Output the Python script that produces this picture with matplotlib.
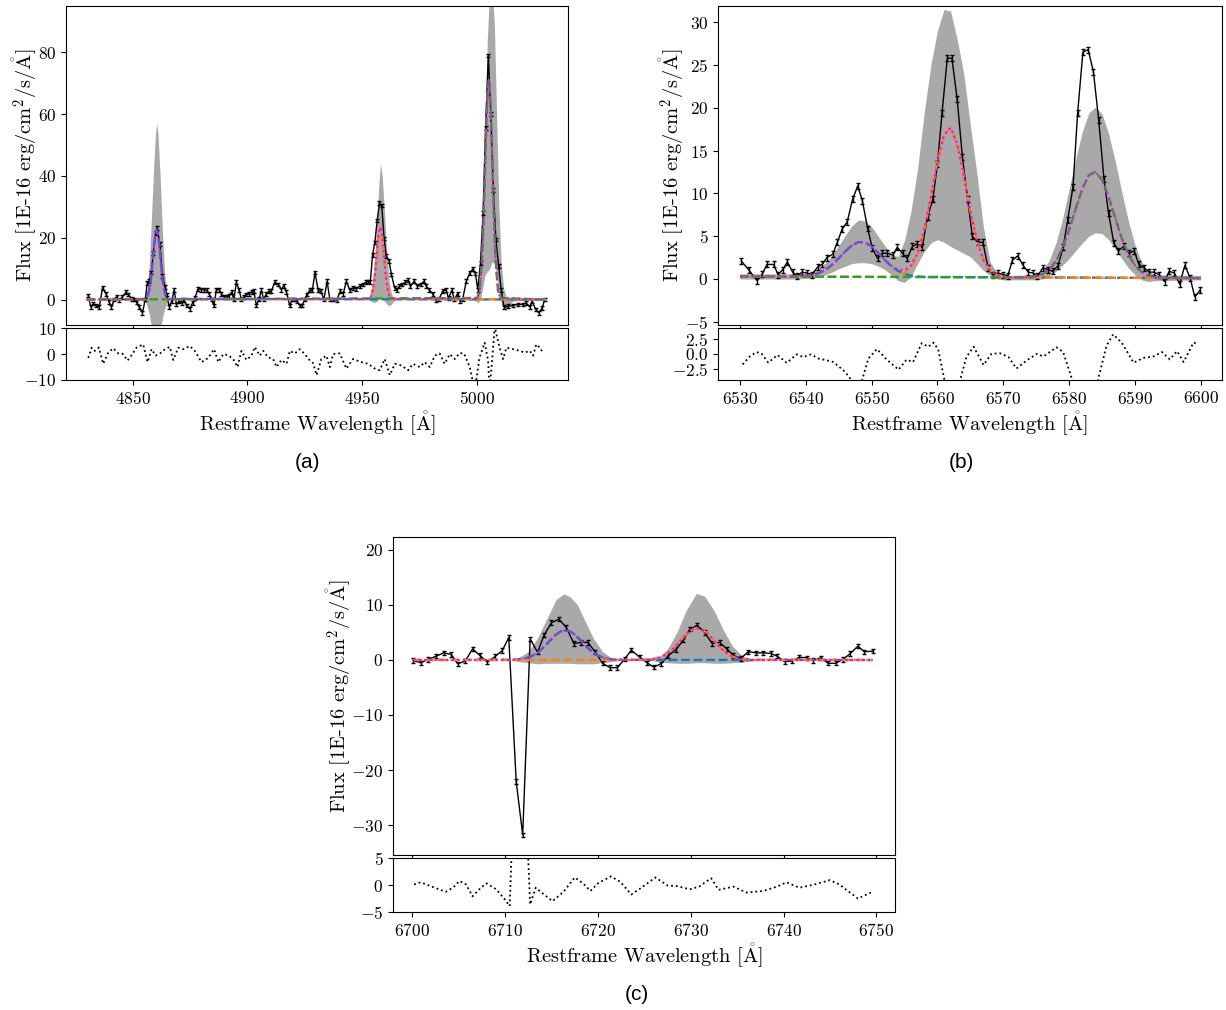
import matplotlib.pyplot as plt

plt.rcParams['font.family'] = ['cmr10', 'DejaVu Serif']
plt.rcParams['mathtext.fontset'] = 'cm'
plt.rcParams['axes.formatter.use_mathtext'] = True

# ---------------- panel (a): Hbeta + [OIII] ----------------
a_wl = [4830.7, 4831.8, 4832.9, 4834.0, 4835.5, 4836.9, 4838.4, 4839.8, 4840.8, 4842.0,
        4843.0, 4844.2, 4845.6, 4847.1, 4848.2, 4849.6, 4850.7, 4851.7, 4852.9, 4854.3,
        4855.5, 4856.4, 4857.2, 4858.2, 4859.0, 4860.0, 4860.7, 4861.9, 4863.0, 4864.1,
        4864.8, 4866.0, 4867.0, 4868.1, 4869.1, 4870.3, 4871.3, 4872.3, 4873.5, 4874.9,
        4876.1, 4877.1, 4878.5, 4880.0, 4881.0, 4882.2, 4883.3, 4884.4, 4885.4, 4886.5,
        4887.7, 4888.7, 4889.7, 4890.9, 4892.0, 4893.1, 4894.1, 4895.2, 4896.4, 4897.4,
        4898.4, 4899.6, 4900.7, 4901.8, 4902.8, 4903.9, 4905.1, 4906.1, 4907.1, 4908.3,
        4909.4, 4910.4, 4911.9, 4913.4, 4914.8, 4915.8, 4917.0, 4918.4, 4919.6, 4920.6,
        4921.6, 4922.8, 4923.9, 4924.9, 4925.9, 4927.1, 4928.3, 4929.4, 4930.8, 4932.0,
        4933.3, 4934.7, 4935.9, 4937.3, 4938.8, 4940.5, 4941.7, 4943.1, 4944.6, 4946.0,
        4947.5, 4948.9, 4950.4, 4951.5, 4952.6, 4953.5, 4954.5, 4955.5, 4956.5, 4957.5,
        4958.5, 4959.5, 4960.5, 4961.7, 4962.7, 4964.1, 4965.1, 4966.2, 4967.4, 4968.8,
        4970.1, 4971.0, 4972.6, 4974.0, 4975.5, 4976.9, 4977.9, 4979.1, 4980.6, 4982.0,
        4983.5, 4985.0, 4986.4, 4987.6, 4989.0, 4990.1, 4991.5, 4992.5, 4993.7, 4995.3,
        4996.8, 4998.2, 4999.3, 5000.3, 5001.5, 5002.6, 5003.7, 5004.9, 5006.0, 5007.1,
        5008.2, 5009.4, 5010.5, 5011.7, 5013.5, 5015.6, 5017.8, 5020.0, 5021.4, 5022.9,
        5024.0, 5025.5, 5026.9, 5028.4, 5029.4]
a_flux = [1.3, -2.4, -1.3, -1.9, -2.4, 3.8, 1.9, -0.9, -2.4, 0.0,
          0.9, -0.2, 0.9, 2.4, 1.6, 0.2, 0.0, -0.9, -2.4, -4.3,
          0.0, 5.4, 5.9, 8.8, 15.0, 21.5, 23.1, 17.9, 7.7, 4.1,
          1.6, -2.4, -0.5, 3.0, -1.6, -0.5, -1.1, -0.2, -1.9, -3.0,
          -1.1, 0.5, 3.5, 3.2, 3.2, 3.0, 1.9, 0.0, -1.9, 3.2,
          3.2, 1.9, 0.9, 0.9, 1.1, 2.4, 0.0, 5.6, 3.0, 0.0,
          0.9, 1.6, 1.9, 2.4, 2.7, -1.9, 0.2, 3.0, 0.0, 1.9,
          2.7, 2.7, 5.6, 4.9, 3.2, 4.5, 2.4, -1.9, 0.0, 0.0,
          -0.5, -1.9, -1.9, 0.0, 1.6, 3.0, 3.0, 8.8, 3.0, 2.7,
          0.0, 5.9, 0.0, 0.0, -0.2, 2.7, 1.9, 5.9, 3.0, 3.8,
          3.5, 4.3, 4.9, 5.6, 5.8, 5.6, 14.5, 18.5, 25.6, 31.2,
          30.4, 19.8, 14.0, 12.4, 8.1, 3.8, 3.2, 4.3, 4.9, 5.6,
          6.3, 4.3, 5.9, 4.3, 4.9, 5.9, 4.3, 3.2, 1.9, -0.2,
          0.2, 2.7, 3.2, 0.5, 3.0, 0.0, 1.9, -0.5, 0.0, 5.9,
          8.6, 9.9, 8.4, 3.2, 11.8, 28.0, 55.5, 79.0, 60.0, 35.5,
          19.4, 10.8, 3.2, -2.4, -2.2, -1.9, -1.6, -1.6, -1.1, -2.4,
          -0.5, -3.2, -4.3, -2.7, 0.0]
a_err = 0.6

a_hb_wl = [4855.5, 4856.5, 4857.5, 4858.0, 4858.5, 4859.0, 4859.5, 4860.0, 4860.5,
           4861.0, 4861.5, 4862.0, 4862.5, 4863.0, 4863.5, 4864.5, 4865.5]
a_hb = [0.2, 1.0, 3.9, 6.6, 10.3, 14.5, 18.5, 21.4, 22.5, 21.4, 18.5, 14.5, 10.3, 6.6, 3.9, 1.0, 0.2]
a_o1_wl = [4952.9, 4953.9, 4954.9, 4955.4, 4955.9, 4956.4, 4956.9, 4957.4, 4957.9,
           4958.4, 4958.9, 4959.4, 4959.9, 4960.4, 4960.9, 4961.9, 4962.9]
a_o1 = [0.2, 1.0, 4.0, 6.9, 10.7, 15.1, 19.3, 22.3, 23.4, 22.3, 19.3, 15.1, 10.7, 6.9, 4.0, 1.0, 0.2]
a_o2_wl = [5000.1, 5001.1, 5002.1, 5002.6, 5003.1, 5003.6, 5004.1, 5004.6, 5005.1,
           5005.6, 5006.1, 5006.6, 5007.1, 5007.6, 5008.1, 5009.1, 5010.1]
a_o2 = [0.5, 3.1, 12.2, 20.9, 32.5, 45.7, 58.4, 67.6, 71.0, 67.6, 58.4, 45.7, 32.5, 20.9, 12.2, 3.1, 0.5]
a_edges = [4830.0, 5030.0]

a_band_wl = [4830, 4855.3, 4856.3, 4857.3, 4858.3, 4859.3, 4860.0, 4860.5, 4861.0, 4862.0, 4863.0, 4864.0, 4865.0, 4866.0,
             4952.5, 4953.5, 4954.5, 4955.5, 4956.5, 4957.3, 4957.9, 4958.7, 4959.7, 4960.7, 4961.7, 4962.7, 4963.7, 4965.0,
             4998.5, 4999.5, 5000.5, 5001.5, 5002.5, 5003.5, 5004.5, 5005.5, 5006.5, 5007.5, 5008.5, 5009.5, 5010.5,
             5011.5, 5012.5, 5013.5, 5014.5, 5015.5, 5030]
a_band_hi = [0, 0, 3, 12, 28, 45, 54, 57, 54, 40, 22, 8, 2, 0,
             0, 2, 6, 14, 27, 38, 44, 40, 28, 15, 6, 2, 0.3, 0,
             0, 0.5, 3, 10, 28, 55, 85, 100, 100, 90, 60, 30, 12, 4, 1, 0.3, 0, 0, 0]
a_band_lo = [0, 0, -2, -5, -9, -12, -12, -12, -12, -10, -6, -3, -1, 0,
             0, -0.3, -0.8, -1, -0.5, 0.5, 1, 0.5, -0.5, -1.5, -2, -1.5, -0.5, 0,
             0, -0.5, -1, 0, 4, 8, 9, 10, 12, 12, 8, 3, -1, -3, -3.5, -3, -1.5, -0.5, 0]

a_res_wl = [4830.7, 4832.2, 4833.6, 4835.3, 4837.2, 4839.4, 4841.6, 4843.8, 4845.9, 4847.8,
            4849.9, 4851.7, 4854.6, 4856.5, 4858.3, 4860.0, 4861.9, 4864.1, 4866.2, 4867.7,
            4869.9, 4872.0, 4874.9, 4877.1, 4880.0, 4882.9, 4885.5, 4887.3, 4889.5, 4891.6,
            4893.8, 4895.7, 4897.4, 4899.6, 4901.8, 4903.2, 4905.4, 4906.9, 4909.0, 4911.2,
            4912.7, 4914.8, 4917.0, 4918.5, 4920.6, 4922.8, 4925.0, 4927.2, 4928.6, 4930.1,
            4932.2, 4934.4, 4935.9, 4937.3, 4940.2, 4943.1, 4946.0, 4949.6, 4952.6, 4955.5,
            4957.6, 4959.8, 4962.0, 4964.2, 4967.1, 4970.0, 4972.1, 4975.0, 4977.2, 4979.4,
            4981.6, 4983.7, 4985.9, 4988.1, 4990.3, 4992.4, 4994.3, 4996.8, 4999.0, 5001.1,
            5003.3, 5004.8, 5005.5, 5007.7, 5009.8, 5011.3, 5012.8, 5015.7, 5018.6, 5020.7,
            5023.0, 5024.4, 5025.8, 5027.3, 5028.7]
a_res = [-1.5, 2.5, 1.25, 2.5, -3.75, 0.6, 2.25, 0.25, 0, -2.5,
         0, 2.5, 3.75, -3.1, 1.9, -0.6, 0.25, 1.9, 2.75, -2.25,
         2.5, 1.9, 3.1, 1.25, -3.1, -1.5, 1.9, -3.1, 0, -0.4,
         -1.9, -5, 1.25, -2.25, -0.6, 2.75, -0.6, 1.25, -1.25, -1.9,
         -5, -2.25, -3.75, 1.25, 0.25, 1.9, 0, -2.5, -3.5, -8.1,
         -1.9, -0.6, -5, 0, 0.25, -5.6, -1.9, -3.1, -3.75, -5.6,
         -6.25, -1.9, -8.1, -3.75, -4.4, -6.25, -3.75, -5, -3.1, -5,
         -0.6, 0.25, -3.75, 0, -1.9, 0.4, 0.25, -5, -14, -1.25,
         4.4, -2.5, -14, 10.5, 2.5, -1.9, 2.5, 1.9, 1.25, 0.6,
         1.25, -0.6, 3.75, 2.5, 0.6]

# ---------------- panel (b): Halpha + [NII] ----------------
b_wl = [6530.2, 6531.3, 6532.6, 6533.4, 6534.1, 6535.1, 6535.8, 6536.5, 6537.2, 6538.0,
        6538.7, 6539.4, 6540.2, 6540.9, 6541.8, 6542.5, 6543.2, 6544.1, 6544.8, 6545.5,
        6546.3, 6547.1, 6547.9, 6548.6, 6549.4, 6550.1, 6550.9, 6551.6, 6552.4, 6553.2,
        6553.9, 6554.7, 6555.4, 6556.2, 6556.9, 6557.7, 6558.5, 6559.3, 6560.0, 6560.7,
        6561.5, 6562.2, 6563.0, 6563.8, 6564.6, 6565.3, 6566.1, 6566.9, 6567.7, 6568.4,
        6569.2, 6570.0, 6570.7, 6571.4, 6572.2, 6573.0, 6573.8, 6574.5, 6575.2, 6576.0,
        6576.8, 6577.5, 6578.3, 6579.1, 6579.8, 6580.6, 6581.3, 6582.1, 6582.9, 6583.7,
        6584.5, 6585.3, 6586.0, 6586.8, 6587.5, 6588.3, 6589.1, 6589.9, 6590.6, 6591.4,
        6592.2, 6592.9, 6593.7, 6594.5, 6595.2, 6596.0, 6596.8, 6597.6, 6598.4, 6599.1,
        6599.9]
b_flux = [2.1, 1.1, -0.2, 0.6, 1.7, 1.7, 0.5, 1.1, 2.0, 0.8,
          0.3, 0.8, 0.7, 0.5, 1.4, 1.7, 2.5, 2.9, 4.3, 5.8,
          6.7, 9.3, 10.9, 9.1, 5.9, 3.6, 2.4, 3.0, 3.0, 2.8,
          3.7, 3.0, 2.4, 3.8, 4.1, 3.7, 7.3, 9.3, 13.4, 19.4,
          25.8, 25.8, 21.0, 14.2, 9.3, 5.0, 4.3, 4.3, 1.3, 0.5,
          0.7, 0.5, 0.4, 2.2, 2.7, 1.6, 0.8, 0.7, 0.3, 1.3,
          1.1, 0.9, 1.5, 3.7, 6.9, 10.8, 19.4, 26.5, 26.8, 24.2,
          18.6, 11.7, 7.7, 4.2, 3.3, 3.8, 3.0, 3.3, 1.7, 1.3,
          0.8, 0.8, 0.5, -0.3, 0.9, 0.7, -0.6, 1.6, 0.1, -2.1,
          -1.3]
b_err = 0.35

b_n1_wl = [6530] + list(range(6539, 6559)) + [6600]
b_n1 = [0.30, 0.30, 0.35, 0.47, 0.69, 1.07, 1.66, 2.42, 3.23, 3.93, 4.31,
        4.27, 3.80, 3.06, 2.24, 1.50, 0.95, 0.59, 0.39, 0.29, 0.24, 0.10]
b_ha_wl = [6530] + list(range(6552, 6572)) + [6600]
b_ha = [0.30, 0.24, 0.27, 0.36, 0.66, 1.41, 2.99, 5.73, 9.57, 13.71, 16.81,
        17.66, 15.80, 12.10, 7.92, 4.47, 2.20, 1.00, 0.47, 0.26, 0.20, 0.10]
b_n2_wl = [6530] + list(range(6573, 6595)) + [6600]
b_n2 = [0.30, 0.18, 0.23, 0.34, 0.59, 1.11, 2.08, 3.61, 5.72, 8.17, 10.51, 12.12,
        12.51, 11.59, 9.62, 7.16, 4.78, 2.89, 1.59, 0.83, 0.42, 0.23, 0.16, 0.10]
b_tot_wl = [6530] + list(range(6538, 6596)) + [6600]
b_tot = [0.30,
         0.28, 0.30, 0.35, 0.47, 0.69, 1.07, 1.66, 2.42, 3.23, 3.93,
         4.31, 4.27, 3.80, 3.06, 2.24, 1.54, 1.08, 1.02, 1.58, 3.06,
         5.75, 9.57, 13.71, 16.81, 17.66, 15.80, 12.10, 7.92, 4.47, 2.20,
         1.00, 0.47, 0.26, 0.20, 0.18, 0.19, 0.23, 0.34, 0.59, 1.11,
         2.08, 3.61, 5.72, 8.17, 10.51, 12.12, 12.51, 11.59, 9.62, 7.16,
         4.78, 2.89, 1.59, 0.83, 0.42, 0.23, 0.16, 0.12,
         0.10]

b_band_wl = [6530, 6538] + list(range(6540, 6571)) + list(range(6575, 6594)) + [6600]
b_band_hi = [0.6, 0.6,
             0.7, 0.9, 1.3, 1.9, 2.8, 3.9, 5.1, 6.2, 6.9, 6.8,
             6.1, 5.0, 3.9, 3.0, 2.6, 4.5, 8.0, 13.0, 19.5, 25.0,
             29.0, 31.5, 31.3, 28.0, 24.0, 18.0, 12.3, 6.0, 2.0, 0.8,
             0.4,
             0.5, 1.0, 2.2, 4.2, 7.0, 10.5, 14.0, 17.2, 19.4, 20.1,
             19.3, 17.0, 13.8, 10.2, 6.8, 4.0, 2.0, 0.9, 0.5,
             0.4]
b_band_lo = [0.0, 0.0,
             0.05, 0.1, 0.2, 0.5, 0.8, 1.2, 1.5, 1.8, 1.9, 1.9,
             1.8, 1.5, 1.1, 0.5, -0.2, -0.4, 0.3, 1.8, 3.2, 4.2,
             4.6, 4.3, 3.8, 3.4, 3.0, 2.6, 1.8, 1.0, 0.4, 0.0,
             -0.1,
             -0.1, 0.0, 0.4, 0.9, 1.6, 2.4, 3.3, 4.2, 5.0, 5.4,
             5.3, 4.6, 3.5, 2.4, 1.3, 0.5, -0.1, -0.3, -0.2,
             -0.1]

b_res_wl = [6530.4, 6531.5, 6532.5, 6533.3, 6534.3, 6535.7, 6537.1, 6538.6, 6539.6, 6540.8,
            6541.9, 6543.2, 6544.2, 6545.7, 6546.6, 6547.6, 6548.6, 6549.5, 6550.8, 6552.3,
            6554.1, 6555.3, 6556.3, 6557.6, 6558.6, 6559.4, 6560.1, 6562.1, 6564.4, 6565.5,
            6567.0, 6568.2, 6569.5, 6570.8, 6572.0, 6573.6, 6575.1, 6576.1, 6578.1, 6579.1,
            6582.7, 6585.7, 6586.7, 6588.0, 6589.8, 6591.3, 6592.8, 6594.1, 6595.3, 6596.4,
            6597.4, 6598.9, 6599.5]
b_res = [-1.8, -0.45, 0.3, 0.0, -1.5, -0.2, -1.55, -0.1, -0.55, -0.1,
         -0.8, -1.1, -1.4, -2.8, -3.9, -6.5, -4.3, -0.8, 0.8, -1.0,
         -2.7, -1.0, -1.4, 1.8, 1.2, 1.9, 0.8, -10.0, -0.55, 1.2,
         -1.9, 0.0, 0.1, -0.55, -2.5, -1.1, 0.0, -0.45, 1.1, 0.3,
         -12.0, 1.4, 3.3, 1.9, -1.5, -0.7, -0.45, 0.3, -0.95, 0.45,
         -1.4, 1.9, 1.7]

# ---------------- panel (c): [SII] ----------------
c_wl = [6700.1, 6700.9, 6701.7, 6702.6, 6703.4, 6704.2, 6704.9, 6705.7, 6706.5, 6707.3,
        6708.1, 6708.9, 6709.7, 6710.4, 6711.2, 6711.9, 6712.7, 6713.5, 6714.2, 6715.0,
        6715.8, 6716.6, 6717.4, 6718.2, 6718.9, 6719.7, 6720.5, 6721.3, 6722.1, 6722.9,
        6723.6, 6724.5, 6725.3, 6726.0, 6726.8, 6727.6, 6728.4, 6729.2, 6729.9, 6730.7,
        6731.5, 6732.3, 6733.1, 6733.9, 6734.6, 6735.4, 6736.2, 6737.0, 6737.8, 6738.6,
        6739.3, 6740.1, 6740.9, 6741.7, 6742.5, 6743.2, 6744.0, 6744.8, 6745.6, 6746.4,
        6747.2, 6748.0, 6748.7, 6749.6]
c_flux = [-0.1, -0.5, 0.1, 0.7, 1.3, 1.0, -0.7, -0.2, 2.0, 0.8,
          -0.4, 0.6, 1.7, 4.1, -22.1, -31.8, 3.8, 1.4, 4.5, 6.8,
          7.4, 5.9, 3.0, 3.2, 3.2, 1.5, -0.6, -1.4, -1.4, 0.2,
          1.8, 0.5, -0.5, -1.3, -0.7, 0.8, 1.9, 3.6, 5.6, 6.3,
          5.0, 3.0, 3.2, 2.0, 0.8, 0.3, 1.5, 1.3, 1.3, 1.2,
          0.7, -0.3, -0.2, 0.5, 0.4, -0.1, 0.4, -0.6, -0.6, 0.1,
          1.2, 2.5, 1.5, 1.6]
c_err = 0.4

c_s1_wl = [6700.1, 6710.5, 6711.5, 6712.0, 6712.5, 6713.0, 6713.5, 6714.0, 6714.5, 6715.0, 6715.5, 6716.0,
           6716.5, 6717.0, 6717.5, 6718.0, 6718.5, 6719.0, 6719.5, 6720.0, 6720.5, 6721.0, 6721.5,
           6722.5, 6749.6]
c_s1 = [0.0, 0.02, 0.11, 0.24, 0.46, 0.82, 1.34, 2.06, 2.91, 3.82, 4.63, 5.19,
        5.4, 5.19, 4.63, 3.82, 2.91, 2.06, 1.34, 0.82, 0.46, 0.24, 0.11, 0.02, 0.0]
c_s2_wl = [6700.1, 6724.7, 6725.7, 6726.2, 6726.7, 6727.2, 6727.7, 6728.2, 6728.7, 6729.2, 6729.7, 6730.2,
           6730.7, 6731.2, 6731.7, 6732.2, 6732.7, 6733.2, 6733.7, 6734.2, 6734.7, 6735.2, 6735.7,
           6736.7, 6749.6]
c_s2 = [0.0, 0.02, 0.12, 0.26, 0.49, 0.88, 1.44, 2.21, 3.13, 4.10, 4.97, 5.58,
        5.8, 5.58, 4.97, 4.10, 3.13, 2.21, 1.44, 0.88, 0.49, 0.26, 0.12, 0.02, 0.0]

c_band_wl = [6700.1, 6710.5, 6711.5, 6712.5, 6713.5, 6714.5, 6715.5, 6716.3, 6717.0, 6717.8,
             6718.5, 6719.5, 6720.5, 6721.5, 6722.5, 6725.5, 6726.5, 6727.5, 6728.5, 6729.5,
             6730.6, 6731.5, 6732.5, 6733.5, 6734.5, 6735.5, 6736.5, 6737.5, 6749.6]
c_band_hi = [0, 0, 0.5, 1.5, 4.0, 7.5, 11.0, 12.0, 11.5, 10.0,
             7.5, 4.0, 1.5, 0.3, 0, 0, 0.4, 2.0, 5.0, 9.0,
             12.1, 11.6, 9.0, 5.5, 2.5, 0.8, 0.1, 0, 0]
c_band_lo = [0, 0, -0.3, -0.5, -0.7, -0.6, -0.6, -0.6, -0.6, -0.7,
             -0.7, -0.7, -0.5, -0.3, 0, 0, -0.3, -0.5, -0.6, -0.6,
             -0.5, -0.5, -0.6, -0.6, -0.5, -0.4, -0.2, 0, 0]

c_res_wl = [6700.2, 6700.9, 6702.1, 6703.6, 6704.4, 6705.1, 6705.8, 6706.5, 6707.4, 6708.0,
            6709.0, 6709.9, 6710.5, 6711.2, 6711.9, 6712.7, 6713.3, 6714.3, 6715.1, 6716.3,
            6717.5, 6718.4, 6719.2, 6720.0, 6721.4, 6722.4, 6723.6, 6724.6, 6726.2, 6727.5,
            6728.5, 6729.9, 6730.9, 6732.2, 6733.0, 6734.6, 6736.0, 6737.8, 6739.3, 6740.3,
            6741.7, 6743.1, 6745.0, 6746.0, 6748.0, 6749.4]
c_res = [0.1, 0.5, -0.3, -1.25, -0.5, 0.75, 0.1, -2.1, -0.5, 0.3,
         -0.75, -2.5, -3.9, 30.0, 30.0, -3.6, -0.5, -1.9, -3.0, -1.25,
         1.4, 0.3, -1.1, 0.3, 1.6, 0.6, -1.75, -0.6, 1.4, -0.1,
         -0.2, -0.8, -0.3, 1.25, -0.9, -0.3, -1.4, -1.1, -0.3, 0.5,
         -0.5, 0.0, 0.9, 0.1, -2.5, -1.4]

W, H = 1226, 1010
ANG = r'$\mathring{\mathrm{A}}$'
YLABEL = 'Flux [1E-16 erg/cm$^2$/s/' + ANG + ']'
XLABEL = 'Restframe Wavelength [' + ANG + ']'
LABEL_SIZE = 14.7
TICK_SIZE = 12.5


def box(left, right, top, bottom):
    # pixel box -> figure fraction rect
    return [left / W, 1 - bottom / H, (right - left) / W, (bottom - top) / H]


def spectrum_panel(fig, left, right, top, split, bottom, wl, flux, err, band, comps, total,
                   res, xlim, ylim, yticks, rylim, ryticks, xticks):
    ax = fig.add_axes(box(left, right, top, split))
    axr = fig.add_axes(box(left, right, split + 3, bottom))
    ax.fill_between(band[0], band[1], band[2], color='darkgray', lw=0, zorder=1)
    ax.errorbar(wl, flux, yerr=err, color='k', lw=1, elinewidth=1, capsize=1.5,
                capthick=1, zorder=3)
    for (cw, cf), col in zip(comps, ['C0', 'C1', 'C2']):
        ax.plot(cw, cf, '--', color=col, lw=1.7, zorder=4)
    ax.plot(total[0], total[1], ':', color='magenta', lw=1.5, zorder=5)
    ax.set_xlim(xlim)
    ax.set_ylim(ylim)
    ax.set_yticks(yticks)
    ax.set_xticks(xticks)
    ax.tick_params(labelbottom=False, labelsize=TICK_SIZE)
    ax.set_ylabel(YLABEL, fontsize=LABEL_SIZE, labelpad=-1)

    axr.plot(res[0], res[1], 'k:', lw=1.3)
    axr.set_xlim(xlim)
    axr.set_ylim(rylim)
    axr.set_yticks(ryticks)
    axr.set_xticks(xticks)
    axr.tick_params(labelsize=TICK_SIZE)
    axr.set_xlabel(XLABEL, fontsize=LABEL_SIZE, labelpad=1.5)
    return ax, axr


fig = plt.figure(figsize=(W / 100, H / 100), dpi=100)

spectrum_panel(fig, 66, 568, 6, 325.2, 380,
               a_wl, a_flux, a_err, (a_band_wl, a_band_lo, a_band_hi),
               [(a_edges[:1] + a_hb_wl + a_edges[1:], [0.0] + a_hb + [0.0]),
                (a_edges[:1] + a_o1_wl + a_edges[1:], [0.0] + a_o1 + [0.0]),
                (a_edges[:1] + a_o2_wl + a_edges[1:], [0.0] + a_o2 + [0.0])],
               (a_edges[:1] + a_hb_wl + a_o1_wl + a_o2_wl + a_edges[1:],
                [0.0] + a_hb + a_o1 + a_o2 + [0.0]),
               (a_res_wl, a_res), (4821.0, 5039.6), (-8.3, 95.0), [0, 20, 40, 60, 80],
               (-10, 10), [-10, 0, 10], [4850, 4900, 4950, 5000])

spectrum_panel(fig, 718, 1221.5, 6, 325.2, 380,
               b_wl, b_flux, b_err, (b_band_wl, b_band_lo, b_band_hi),
               [(b_n1_wl, b_n1), (b_ha_wl, b_ha), (b_n2_wl, b_n2)],
               (b_tot_wl, b_tot),
               (b_res_wl, b_res), (6526.66, 6603.16), (-5.4, 31.9), [-5, 0, 5, 10, 15, 20, 25, 30],
               (-4.45, 4.35), [-2.5, 0, 2.5], [6530, 6540, 6550, 6560, 6570, 6580, 6590, 6600])

spectrum_panel(fig, 393, 895, 537.3, 855, 912,
               c_wl, c_flux, c_err, (c_band_wl, c_band_lo, c_band_hi),
               [(c_s1_wl, c_s1), (c_s2_wl, c_s2)],
               (c_s1_wl[:-1] + c_s2_wl[1:],
                c_s1[:-1] + c_s2[1:]),
               (c_res_wl, c_res), (6697.93, 6752.0), (-35.45, 22.3), [-30, -20, -10, 0, 10, 20],
               (-5, 5), [-5, 0, 5], [6700, 6710, 6720, 6730, 6740, 6750])

for x, y, t in [(308, 462, '(a)'), (961, 462, '(b)'), (637, 995, '(c)')]:
    fig.text(x / W, 1 - y / H, t, ha='center', va='center', fontsize=15,
             family='Liberation Sans')

fig.savefig('out.png', dpi=100)
